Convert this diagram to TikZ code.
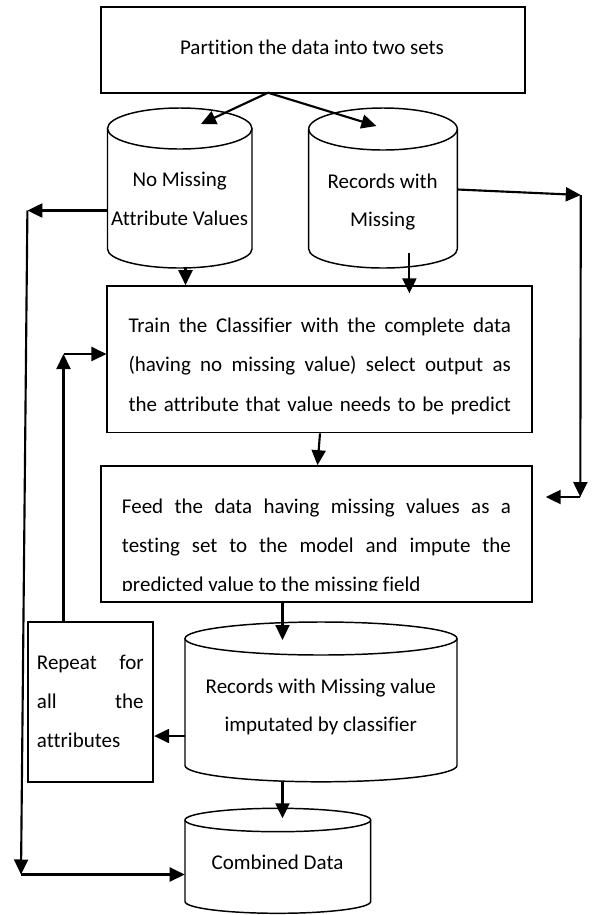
\documentclass[tikz,border=0pt]{standalone}
\usepackage{fontspec}
\setmainfont{Carlito}[Ligatures=NoCommon]
\usetikzlibrary{arrows.meta,fit,calc}
\hbadness=10000

% drum (cylinder) outline: left x, right x, top centre y, top y-radius,
% bottom centre y, bottom y-radius
\newcommand\drawdrum[6]{%
  \draw[drumline] (#1,#3) -- (#1,#5)
    arc[start angle=180, end angle=0, x radius={(#2-#1)/2}, y radius=#6] -- (#2,#3);
  \draw[drumline] ({(#1+#2)/2},#3) ellipse[x radius={(#2-#1)/2}, y radius=#4];
}

\tikzset{
  box/.style={draw, line width=1.25pt, inner sep=0pt},
  holder/.style={draw=none, inner sep=0pt},
  drumline/.style={line width=1.1pt},
  txt/.style={inner sep=0pt, font=\fontsize{15.75pt}{29.4pt}\selectfont},
  drumtxt/.style={inner sep=0pt, font=\fontsize{15.75pt}{28.8pt}\selectfont},
  arr/.style={line width=1.6pt, -{Triangle[length=11.25pt, width=10.5pt]}}
}

\begin{document}
\begin{tikzpicture}[x=0.75pt, y=-0.75pt]
  \fill[white] (0,0) rectangle (596,915);

  % process boxes
  \node[box, fit={(100.7,6.7) (525,92.7)}] (part) {};
  \node[box, fit={(107.3,286) (532.3,432.5)}] (train) {};
  \node[box, fit={(100.7,466) (532.3,601.7)}] (feed) {};
  \node[box, fit={(27.7,622.3) (153.3,781.7)}] (repeat) {};

  % data stores
  \node[holder, fit={(107.5,108) (252,268)}] (nomiss) {};
  \node[holder, fit={(308.7,108) (457.3,268)}] (recs) {};
  \node[holder, fit={(185,622) (457,781.7)}] (recimp) {};
  \node[holder, fit={(185,808.3) (370.7,913.3)}] (comb) {};
  \drawdrum{107.5}{252}{128.5}{20.5}{249}{19}
  \drawdrum{308.7}{457.3}{129}{21}{249}{19}
  \drawdrum{185}{457}{638.5}{16.5}{765.5}{16.3}
  \drawdrum{185}{370.7}{820}{11.7}{901.5}{11.8}

  % texts
  \node[txt, anchor=base] (partText) at (312,54) {Partition the data into two sets};
  \node[drumtxt, anchor=base] (nomissText) at (179.7,186.7)
    {\parbox[t]{150pt}{\centering No Missing\\Attribute Values}};
  \node[drumtxt, anchor=base] (recsText) at (382.7,188.2)
    {\parbox[t]{100pt}{\centering Records with\\Missing}};
  \node[txt, anchor=base west] (trainText) at (128.3,332.7)
    {\parbox[t]{286.8pt}{\parfillskip=0pt\relax Train the Classifier with the complete data\linebreak
     (having no missing value) select output as\linebreak
     the attribute that value needs to be predict}};
  \begin{scope}
    \clip (100,466) rectangle (533,590);
    \node[txt, anchor=base west] (feedText) at (121.7,513.3)
      {\parbox[t]{291.75pt}{Feed the data having missing values as a\linebreak
       testing set to the model and impute the\linebreak
       predicted value to the missing field}};
  \end{scope}
  \node[txt, anchor=base west] (repeatText) at (36.7,669.3)
    {\parbox[t]{80pt}{Repeat for\linebreak all the\linebreak attributes}};
  \node[drumtxt, anchor=base] (recimpText) at (320.8,693.3)
    {\parbox[t]{200pt}{\centering Records with Missing value\\imputated by classifier}};
  \node[txt, anchor=base] (combText) at (277.5,869.3) {Combined Data};

  % bends and loose ends of the connectors
  \coordinate (fork) at (268,92.7);
  \coordinate (nmTip) at (201,124);
  \coordinate (rmTip) at (376.4,126);
  \coordinate (rmDrop) at (409.4,253);
  \coordinate (rmDropTip) at (409.4,293.3);
  \coordinate (leftTop) at (27.4,210.5);
  \coordinate (leftBot) at (21,874.5);
  \coordinate (rightTop) at (580.8,195);
  \coordinate (rightBot) at (580.3,497);
  \coordinate (feedIn) at (545.7,497);
  \coordinate (loopCorner) at (63.5,354);
  \coordinate (riTip) at (282.5,640);
  \coordinate (combTip) at (282.5,818.3);

  % connectors
  \draw[arr] (fork) -- (nmTip);
  \draw[arr] (fork) -- (rmTip);
  \draw[arr] (nomiss.south -| 185.5,0) -- (train.north -| 185.5,0);
  \draw[arr] (rmDrop) -- (rmDropTip);

  \draw[arr] (nomiss.west |- leftTop) -- (leftTop);
  \draw[arr] (leftTop) -- (leftBot);
  \draw[arr] (leftBot) -- (comb.west |- leftBot);

  \draw[arr] (recs.east |- 0,189.5) -- (rightTop);
  \draw[arr] (rightTop) -- (rightBot);
  \draw[arr] (rightBot) -- (feedIn);

  \draw[arr] (train.south -| 320,0) -- (feed.north -| 317.5,0);
  \draw[arr] (feed.south -| riTip) -- (riTip);
  \draw[arr] (recimp.west |- 0,736) -- (repeat.east |- 0,736);
  \draw[arr] (repeat.north -| loopCorner) -- (loopCorner);
  \draw[arr] (loopCorner) -- (train.west |- loopCorner);
  \draw[arr] (recimp.south -| combTip) -- (combTip);
\end{tikzpicture}
\end{document}
